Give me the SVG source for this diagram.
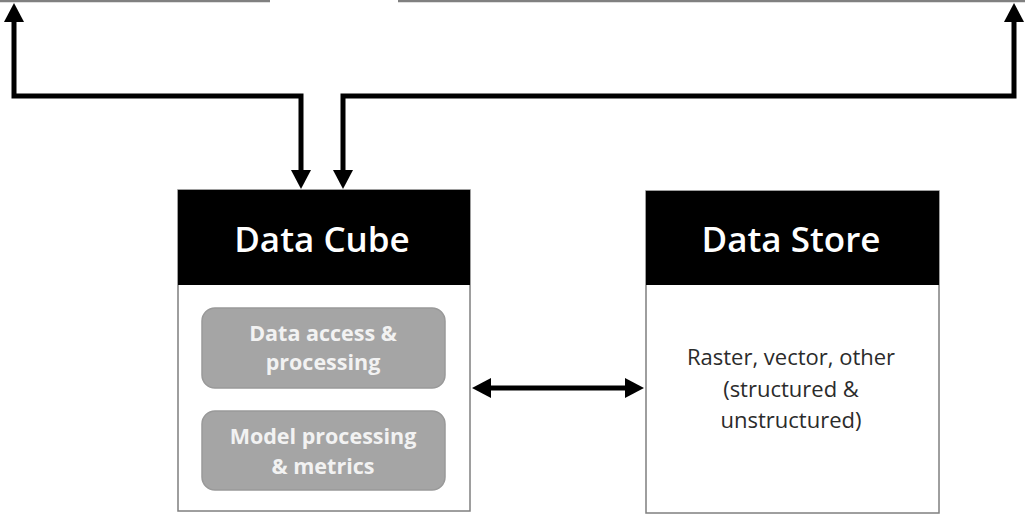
<svg xmlns="http://www.w3.org/2000/svg" width="1025" height="514" viewBox="0 0 1025 514">
<defs>
<marker id="ah" markerUnits="userSpaceOnUse" markerWidth="20" markerHeight="20" viewBox="0 -10 20 20" refX="1" refY="0" orient="auto-start-reverse" overflow="visible">
<path d="M0,-10 L19,0 L0,10 Z" fill="#000"/>
</marker>
</defs>
<style>
.edge{fill:none;stroke:#000;stroke-width:5;stroke-linejoin:miter;marker-start:url(#ah);marker-end:url(#ah)}
.body{fill:#fff;stroke:#7f7f7f;stroke-width:1.5}
.head{fill:#000}
.title{font-family:"Open Sans","DejaVu Sans",sans-serif;font-weight:600;font-size:35px;fill:#fff;text-anchor:middle}
.pill{fill:#a5a5a5;stroke:#999;stroke-width:1.5}
.ptxt{font-family:"Open Sans","DejaVu Sans",sans-serif;font-weight:700;font-size:21.5px;fill:#f2f2f2;text-anchor:middle}
.btxt{font-family:"Open Sans","DejaVu Sans",sans-serif;font-weight:400;font-size:22px;fill:#2b2b2b;text-anchor:middle}
.cut{stroke:#808080;stroke-width:2.5}
</style>
<g id="cutoff">
<line class="cut" x1="0" y1="1" x2="270" y2="1"/>
<line class="cut" x1="398" y1="1" x2="1025" y2="1"/>
</g>
<g id="data-cube">
<rect class="body" x="178" y="190" width="292" height="321"/>
<rect class="head" x="178" y="190" width="292" height="95"/>
<text class="title" x="322" y="252">Data Cube</text>
<rect class="pill" x="202" y="308" width="243" height="80" rx="13"/>
<text class="ptxt" x="323" y="341">Data access &amp;</text>
<text class="ptxt" x="323" y="370">processing</text>
<rect class="pill" x="202" y="411" width="243" height="79" rx="13"/>
<text class="ptxt" x="323" y="444">Model processing</text>
<text class="ptxt" x="323" y="474">&amp; metrics</text>
</g>
<g id="data-store">
<rect class="body" x="646" y="191" width="293" height="322"/>
<rect class="head" x="646" y="191" width="293" height="94"/>
<text class="title" x="791" y="252">Data Store</text>
<text class="btxt" x="791" y="365">Raster, vector, other</text>
<text class="btxt" x="791" y="397">(structured &amp;</text>
<text class="btxt" x="791" y="428">unstructured)</text>
</g>
<g id="connectors">
<path class="edge" d="M14,21 V96 H301 V171"/>
<path class="edge" d="M1014,21 V96 H343 V171"/>
<path class="edge" d="M490,388 H626"/>
</g>
</svg>
